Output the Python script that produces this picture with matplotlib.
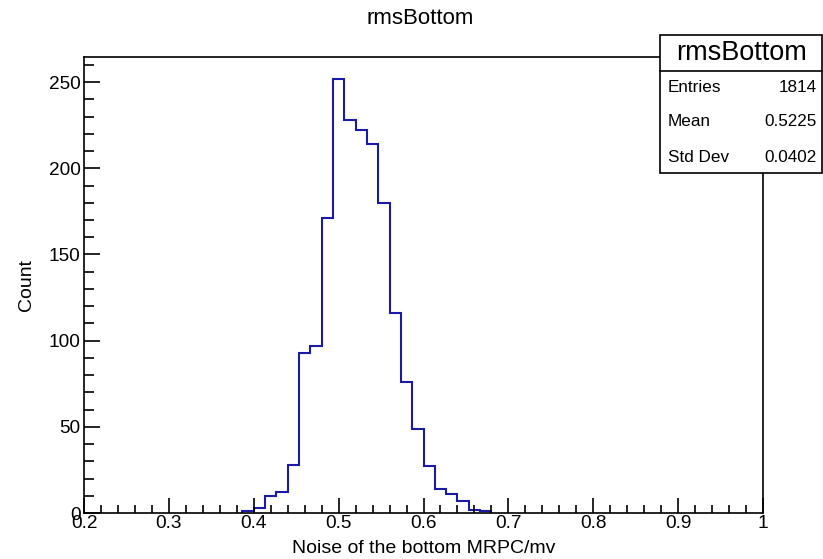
import numpy as np
import matplotlib
matplotlib.use("Agg")
import matplotlib.pyplot as plt
from matplotlib.patches import Rectangle
from matplotlib.ticker import MultipleLocator, FuncFormatter

plt.rcParams["font.family"] = ["Liberation Sans", "DejaVu Sans"]

x_min = 0.2
x_max = 1.0
n_bins = 60
first_bin = 14
counts = [1, 3, 10, 12, 28, 93, 97, 171, 252, 228, 222, 214,
          180, 116, 76, 49, 27, 14, 11, 7, 2, 1]

hist_name = "rmsBottom"
stat_labels = ["Entries", "Mean", "Std Dev"]
stat_values = ["1814", "0.5225", "0.0402"]

W, H = 823, 559
fig = plt.figure(figsize=(W / 100, H / 100), dpi=100)
ax = fig.add_axes([84 / W, 1 - 513 / H, 679 / W, 456 / H])

width = (x_max - x_min) / n_bins
edges = x_min + width * (first_bin + np.arange(len(counts) + 1))
ax.stairs(counts, edges, baseline=0, color="#1a1aa6", linewidth=1.5)

ax.set_xlim(x_min, x_max)
ax.set_ylim(0, 1.05 * max(counts))

# Axes style ROOT
ax.xaxis.set_major_locator(MultipleLocator(0.1))
ax.xaxis.set_minor_locator(MultipleLocator(0.02))
ax.yaxis.set_major_locator(MultipleLocator(50))
ax.yaxis.set_minor_locator(MultipleLocator(10))
ax.xaxis.set_major_formatter(FuncFormatter(lambda v, p: f"{v:g}"))
ax.tick_params(axis="both", which="both", direction="in", top=False, right=False,
               labelsize=13.7, width=1.2)
ax.tick_params(axis="x", which="major", length=11, pad=1.5)
ax.tick_params(axis="x", which="minor", length=5.5)
ax.tick_params(axis="y", which="major", length=11.5, pad=2.5)
ax.tick_params(axis="y", which="minor", length=7)
for s in ax.spines.values():
    s.set_linewidth(1.2)

ax.set_xlabel("Noise of the bottom MRPC/mv", fontsize=14)
ax.set_ylabel("Count", fontsize=14)
ax.xaxis.set_label_coords(0.5, -0.077)
ax.yaxis.set_label_coords(-0.084, 0.5)
ax.xaxis.label.set_verticalalignment("center")
ax.yaxis.label.set_verticalalignment("center")

fig.text(420 / W, 1 - 18 / H, hist_name, fontsize=16, ha="center", va="center")

# Boîte de statistiques
def fx(x):
    return x / W

def fy(y):
    return 1 - y / H

box = Rectangle((fx(660), fy(173)), fx(822) - fx(660), fy(35) - fy(173),
                transform=fig.transFigure, facecolor="white", edgecolor="black",
                linewidth=1.2, zorder=5)
fig.patches.append(box)
fig.add_artist(plt.Line2D([fx(660), fx(822)], [fy(71), fy(71)],
                          transform=fig.transFigure, color="black", linewidth=1.2, zorder=6))
fig.text(fx(742), fy(53), hist_name, fontsize=19.5, ha="center", va="center", zorder=7)
for i, (lab, val) in enumerate(zip(stat_labels, stat_values)):
    y = [88, 121, 157][i]
    fig.text(fx(668), fy(y), lab, fontsize=12.3, ha="left", va="center", zorder=7)
    fig.text(fx(817), fy(y), val, fontsize=12.3, ha="right", va="center", zorder=7)

fig.savefig("out.png", dpi=100)
